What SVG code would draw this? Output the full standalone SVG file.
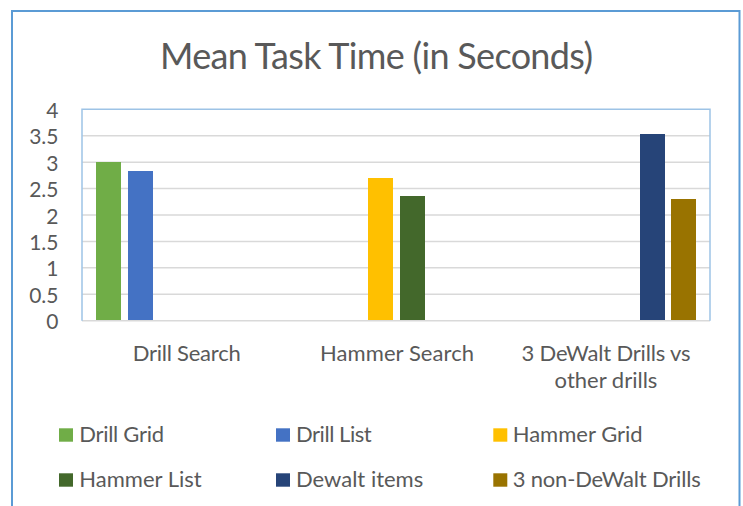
<svg xmlns="http://www.w3.org/2000/svg" width="743" height="506" viewBox="0 0 743 506">
  <style>
    text { font-family: Lato, "Liberation Sans", sans-serif; fill: #595959; }
    .title { font-size: 36px; text-anchor: middle; }
    .tick { font-size: 21px; text-anchor: end; dominant-baseline: central; }
    .cat { font-size: 22px; text-anchor: middle; }
    .leg { font-size: 22px; }
    .grid { stroke: #d9d9d9; stroke-width: 1.5; }
  </style>
  <rect x="0" y="0" width="743" height="506" fill="#ffffff"/>
  <!-- chart frame, runs past the bottom edge -->
  <path d="M12 520 V11 H739.5 V520" fill="none" stroke="#5b9bd5" stroke-width="2"/>

  <text class="title" x="376.5" y="69" textLength="433">Mean Task Time (in Seconds)</text>

  <!-- value axis -->
  <g id="value-axis">
    <text class="tick" x="58.5" y="320.7">0</text>
    <text class="tick" x="58.5" y="294.3">0.5</text>
    <text class="tick" x="58.5" y="267.8">1</text>
    <text class="tick" x="58.5" y="241.4">1.5</text>
    <text class="tick" x="58.5" y="215">2</text>
    <text class="tick" x="58.5" y="188.6">2.5</text>
    <text class="tick" x="58.5" y="162.2">3</text>
    <text class="tick" x="58.5" y="135.7">3.5</text>
    <text class="tick" x="58.5" y="109.3">4</text>
  </g>

  <!-- gridlines and plot frame -->
  <g id="gridlines">
    <line class="grid" x1="82" y1="294.3" x2="710" y2="294.3"/>
    <line class="grid" x1="82" y1="267.8" x2="710" y2="267.8"/>
    <line class="grid" x1="82" y1="241.4" x2="710" y2="241.4"/>
    <line class="grid" x1="82" y1="215" x2="710" y2="215"/>
    <line class="grid" x1="82" y1="188.6" x2="710" y2="188.6"/>
    <line class="grid" x1="82" y1="162.2" x2="710" y2="162.2"/>
    <line class="grid" x1="82" y1="135.7" x2="710" y2="135.7"/>
    <line class="grid" x1="82" y1="320.7" x2="710" y2="320.7"/>
    <path d="M82 320.7 V109.3 H710 V320.7" fill="none" stroke="#9dc3e6" stroke-width="1.5"/>
  </g>

  <!-- bars -->
  <g id="bars">
    <rect id="bar-drill-grid" x="96" y="162" width="25" height="158" fill="#70ad47"/>
    <rect id="bar-drill-list" x="128" y="171" width="25" height="149" fill="#4472c4"/>
    <rect id="bar-hammer-grid" x="368" y="178" width="25" height="142" fill="#ffc000"/>
    <rect id="bar-hammer-list" x="400" y="196" width="25" height="124" fill="#43682b"/>
    <rect id="bar-dewalt" x="640" y="134" width="25" height="186" fill="#264478"/>
    <rect id="bar-non-dewalt" x="671" y="199" width="25" height="121" fill="#997300"/>
  </g>

  <!-- category axis -->
  <g id="category-axis">
    <text class="cat" x="186.7" y="360.7" textLength="108">Drill Search</text>
    <text class="cat" x="397" y="360.7" textLength="154">Hammer Search</text>
    <text class="cat" x="606" y="360.7" textLength="169">3 DeWalt Drills vs</text>
    <text class="cat" x="606" y="388.3">other drills</text>
  </g>

  <!-- legend -->
  <g id="legend">
    <g id="leg-drill-grid"><rect x="59" y="428.3" width="14" height="13.4" fill="#70ad47"/><text class="leg" x="79.3" y="441.7" textLength="84.7">Drill Grid</text></g>
    <g id="leg-drill-list"><rect x="276" y="428.3" width="14" height="13.4" fill="#4472c4"/><text class="leg" x="296" y="441.7" textLength="75.7">Drill List</text></g>
    <g id="leg-hammer-grid"><rect x="493.3" y="428.3" width="14" height="13.4" fill="#ffc000"/><text class="leg" x="512.7" y="441.7" textLength="130">Hammer Grid</text></g>
    <g id="leg-hammer-list"><rect x="59" y="473.3" width="14" height="13.4" fill="#43682b"/><text class="leg" x="79.3" y="487.3">Hammer List</text></g>
    <g id="leg-dewalt"><rect x="276" y="473.3" width="14" height="13.4" fill="#264478"/><text class="leg" x="296" y="487.3">Dewalt items</text></g>
    <g id="leg-non-dewalt"><rect x="493.3" y="473.3" width="14" height="13.4" fill="#997300"/><text class="leg" x="512.7" y="487.3" textLength="188">3 non-DeWalt Drills</text></g>
  </g>
</svg>
